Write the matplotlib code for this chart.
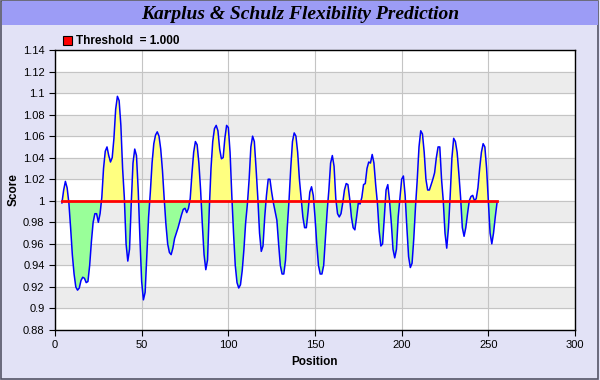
import matplotlib
matplotlib.use("Agg")
import matplotlib.pyplot as plt
from matplotlib.ticker import FuncFormatter
from matplotlib.patches import Rectangle
import numpy as np

# scores, one per residue position
first_pos = 4
score = [
    0.998, 1.010, 1.018, 1.012, 0.998, 0.975, 0.950, 0.932, 0.920, 0.917,
    0.919, 0.926, 0.929, 0.928, 0.924, 0.925, 0.940, 0.962, 0.980, 0.988,
    0.988, 0.980, 0.988, 1.003, 1.030, 1.046, 1.050, 1.042, 1.036, 1.040,
    1.058, 1.085, 1.097, 1.093, 1.070, 1.030, 1.003, 0.960, 0.944, 0.955,
    0.998, 1.035, 1.048, 1.042, 1.010, 0.965, 0.925, 0.908, 0.915, 0.950,
    0.985, 1.008, 1.035, 1.053, 1.061, 1.064, 1.060, 1.048, 1.028, 1.002,
    0.978, 0.960, 0.952, 0.950, 0.956, 0.965, 0.970, 0.975, 0.981, 0.987,
    0.992, 0.993, 0.989, 0.993, 1.002, 1.025, 1.045, 1.055, 1.052, 1.035,
    1.010, 0.978, 0.950, 0.936, 0.945, 0.992, 1.030, 1.055, 1.067, 1.070,
    1.065, 1.048, 1.039, 1.040, 1.058, 1.070, 1.068, 1.045, 1.005, 0.970,
    0.940, 0.924, 0.919, 0.922, 0.935, 0.955, 0.980, 0.997, 1.020, 1.050,
    1.060, 1.055, 1.030, 1.003, 0.970, 0.953, 0.958, 0.985, 1.005, 1.020,
    1.020, 1.008, 0.998, 0.990, 0.982, 0.960, 0.940, 0.932, 0.932, 0.945,
    0.975, 1.000, 1.030, 1.055, 1.063, 1.060, 1.045, 1.020, 1.002, 0.985,
    0.975, 0.975, 0.990, 1.008, 1.013, 1.005, 0.985, 0.960, 0.940, 0.932,
    0.932, 0.940, 0.965, 0.990, 1.010, 1.035, 1.042, 1.032, 1.002, 0.988,
    0.985, 0.988, 0.998, 1.010, 1.016, 1.015, 1.002, 0.985, 0.975, 0.973,
    0.985, 0.998, 0.997, 1.003, 1.015, 1.016, 1.030, 1.036, 1.035, 1.043,
    1.035, 1.015, 0.998, 0.972, 0.958, 0.960, 0.985, 1.010, 1.015, 1.000,
    0.980, 0.955, 0.947, 0.955, 0.985, 1.003, 1.020, 1.023, 1.005, 0.975,
    0.948, 0.938, 0.942, 0.965, 0.995, 1.020, 1.050, 1.065, 1.062, 1.045,
    1.020, 1.010, 1.010, 1.015, 1.020, 1.026, 1.040, 1.050, 1.050, 1.020,
    1.000, 0.970, 0.956, 0.975, 1.005, 1.040, 1.058, 1.055, 1.045, 1.025,
    1.003, 0.975, 0.967, 0.975, 0.988, 1.000, 1.004, 1.005, 1.000, 1.002,
    1.012, 1.030, 1.045, 1.053, 1.050, 1.030, 1.000, 0.970, 0.960, 0.970,
    0.985, 0.998,
]
threshold = 1.0
title = "Karplus & Schulz Flexibility Prediction"
x_ticks = [0, 50, 100, 150, 200, 250, 300]
y_ticks = [0.88, 0.90, 0.92, 0.94, 0.96, 0.98, 1.00, 1.02, 1.04, 1.06,
           1.08, 1.10, 1.12, 1.14]

pos = np.arange(first_pos, first_pos + len(score))
score = np.array(score)

plt.rcParams['font.family'] = ['Liberation Sans', 'DejaVu Sans']

fig = plt.figure(figsize=(6, 3.8), dpi=100)
fig.patch.set_facecolor('#e2e2f6')
# outer frame
fig.add_artist(Rectangle((0.002, 0.003), 0.995, 0.994, transform=fig.transFigure,
                         fill=False, edgecolor='#555566', linewidth=1.2))
# title bar
fig.add_artist(Rectangle((0.004, 0.935), 0.992, 0.062, transform=fig.transFigure,
                         facecolor='#9c9cf6', edgecolor='none'))
fig.text(0.5, 0.962, title, ha='center', va='center', fontsize=14,
         fontweight='bold', fontstyle='italic', family='Liberation Serif')

ax = fig.add_axes([55 / 600, 50 / 380, 520 / 600, 280 / 380])
ax.set_facecolor('white')

# alternating bands
for i in range(len(y_ticks) - 1):
    if i % 2 == 1:
        ax.axhspan(y_ticks[i], y_ticks[i + 1], color='#ececec', zorder=0)

ax.set_xlim(0, 300)
ax.set_ylim(0.88, 1.14)
ax.set_xticks(x_ticks)
ax.set_yticks(y_ticks)
ax.yaxis.set_major_formatter(FuncFormatter(lambda v, p: '{:g}'.format(round(v, 2))))
ax.grid(True, color='#c4c4c4', linewidth=0.8, zorder=1)
ax.set_axisbelow(True)

ax.fill_between(pos, score, threshold, where=score >= threshold, interpolate=True,
                color='#ffff80', linewidth=0, zorder=2)
ax.fill_between(pos, score, threshold, where=score <= threshold, interpolate=True,
                color='#99ff99', linewidth=0, zorder=2)
ax.plot(pos, score, color='#0000ff', linewidth=1.1, zorder=3)
ax.plot([pos[0], pos[-1]], [threshold, threshold], color='#ff0000',
        linewidth=2, zorder=4)

for s in ax.spines.values():
    s.set_color('black')
    s.set_linewidth(1)
ax.tick_params(direction='out', length=4, labelsize=8, colors='black')

ax.set_xlabel('Position', fontsize=8.5, fontweight='bold', labelpad=4)
ax.set_ylabel('Score', fontsize=8.5, fontweight='bold', labelpad=2)

# legend
fig.add_artist(Rectangle((63 / 600, 1 - 45 / 380), 9 / 600, 9 / 380,
                         transform=fig.transFigure, facecolor='#ff0000',
                         edgecolor='black', linewidth=0.8))
fig.text(76 / 600, 1 - 40.5 / 380, 'Threshold  = 1.000', fontsize=8.5,
         fontweight='bold', va='center', ha='left')

fig.savefig('out.png', dpi=100, facecolor=fig.get_facecolor())
